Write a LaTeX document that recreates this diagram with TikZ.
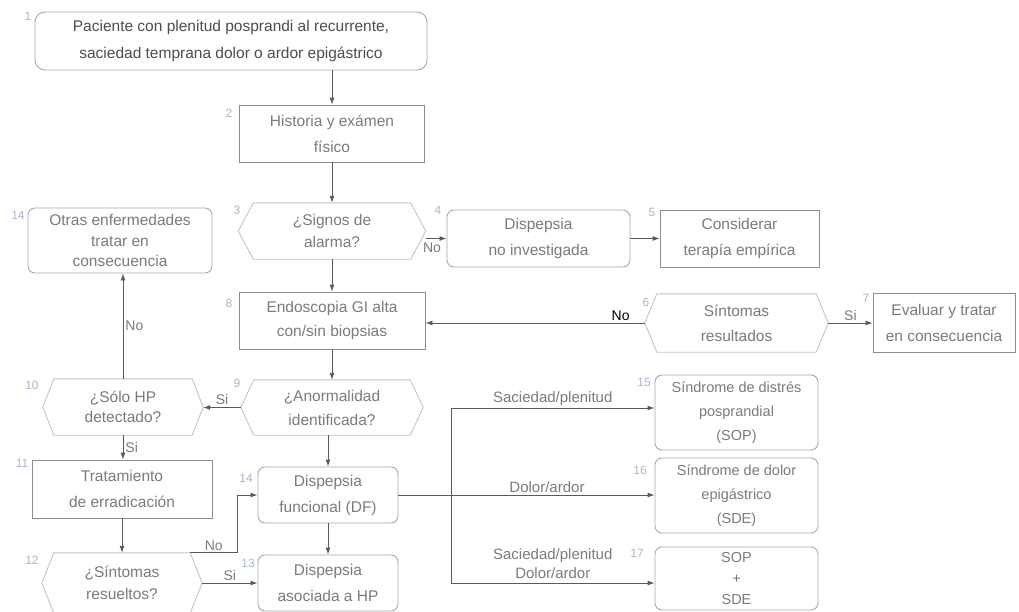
\documentclass[tikz,border=0pt]{standalone}
\usepackage{fontspec}
\setmainfont{Liberation Sans}
\usetikzlibrary{arrows.meta}
\definecolor{txt}{HTML}{7B7B7B}
\definecolor{txtdark}{HTML}{4D4D4D}
\definecolor{boxline}{HTML}{8C8C8C}
\definecolor{rboxline}{HTML}{A8A8A8}
\definecolor{hexline}{HTML}{C4C4C4}
\definecolor{arrline}{HTML}{5A5A5A}
\definecolor{numcol}{HTML}{A7B6D2}
\newcommand\hexpath[2]{%
  \draw[hexdraw] (#1.west) -- ([xshift=#2]#1.north west) -- ([xshift=-#2]#1.north east)
    -- (#1.east) -- ([xshift=-#2]#1.south east) -- ([xshift=#2]#1.south west) -- cycle;}
\tikzset{
  basefont/.style={font=\fontsize{15.5}{26}\selectfont, text=txt},
  smallfont/.style={font=\fontsize{14.5}{24}\selectfont, text=txt},
  boxnode/.style={basefont, draw=boxline, line width=0.9pt, rectangle, align=center, inner sep=0pt, anchor=center},
  rboxnode/.style={basefont, draw=rboxline, line width=0.9pt, rectangle, rounded corners=7pt, align=center, inner sep=0pt, anchor=center},
  hexnode/.style={font=\fontsize{15.5}{21.5}\selectfont, text=txt, rectangle, align=center, inner sep=0pt, anchor=center},
  hexdraw/.style={draw=hexline, line width=0.9pt, line join=round},
  arr/.style={draw=arrline, line width=0.9pt, -{Latex[length=7pt,width=5pt]}},
  plain/.style={draw=arrline, line width=0.9pt},
  lbl/.style={font=\fontsize{14}{18}\selectfont, text=txt, inner sep=2pt},
  numlbl/.style={font=\fontsize{12}{14}\selectfont, text=numcol, inner sep=0pt, anchor=center},
}
\begin{document}
\begin{tikzpicture}[x=1pt,y=-1pt]
\fill[white] (0,0) rectangle (1019,611);
\useasboundingbox (0,0) rectangle (1019,611);

% nodes
\node[rboxnode, rounded corners=10pt, minimum width=392, minimum height=58, text=txtdark, font=\fontsize{15.5}{27}\selectfont] (n1) at (231,41)
  {Paciente con plenitud posprandi al recurrente,\\saciedad temprana  dolor o ardor epigástrico};
\node[boxnode, minimum width=185, minimum height=57] (n2) at (332,133.5) {Historia y exámen\\físico};
\node[hexnode, minimum width=187, minimum height=56] (n3) at (332,231) {¿Signos de\\alarma?};
\hexpath{n3}{15}
\node[rboxnode, minimum width=183, minimum height=57] (n4) at (538.5,238.5) {Dispepsia\\no investigada};
\node[boxnode, minimum width=159, minimum height=57] (n5) at (739.5,238.5) {Considerar\\terapía empírica};
\node[rboxnode, minimum width=184, minimum height=65, font=\fontsize{15.5}{20.5}\selectfont] (n14) at (120,240.5) {Otras enfermedades\\tratar en\\consecuencia};
\node[boxnode, minimum width=186, minimum height=57, font=\fontsize{15.5}{24}\selectfont] (n8) at (332,320.5) {Endoscopia GI alta\\con/sin biopsias};
\node[hexnode, minimum width=183, minimum height=58, font=\fontsize{15.5}{25}\selectfont] (n6) at (736.5,323) {Síntomas\\resultados};
\hexpath{n6}{12}
\node[boxnode, minimum width=142, minimum height=59] (n7) at (944,322.5) {Evaluar y tratar\\en consecuencia};
\node[hexnode, minimum width=160, minimum height=56, font=\fontsize{15.5}{20}\selectfont] (n10) at (123,407) {¿Sólo HP\\detectado?};
\hexpath{n10}{11}
\node[hexnode, minimum width=182, minimum height=55, font=\fontsize{15.5}{24}\selectfont] (n9) at (332,407.5) {¿Anormalidad\\identificada?};
\hexpath{n9}{13}
\node[boxnode, minimum width=180, minimum height=58] (n11) at (122,489) {Tratamiento\\de erradicación};
\node[hexnode, minimum width=160, minimum height=60] (n12) at (122,583) {¿Síntomas\\resueltos?};
\hexpath{n12}{12}
\node[rboxnode, minimum width=140, minimum height=56] (nDF) at (328,495) {Dispepsia\\funcional (DF)};
\node[rboxnode, minimum width=140, minimum height=56] (n13) at (328,583) {Dispepsia\\asociada a HP};
\node[rboxnode, smallfont, minimum width=163, minimum height=75] (n15) at (736.5,412.5) {Síndrome de distrés\\posprandial\\(SOP)};
\node[rboxnode, smallfont, minimum width=163, minimum height=75] (n16) at (736.5,495.5) {Síndrome de dolor\\epigástrico\\(SDE)};
\node[rboxnode, smallfont, minimum width=163, minimum height=63, font=\fontsize{14.5}{21}\selectfont] (n17) at (736.5,578.5) {SOP\\+\\SDE};

% numbers
\node[numlbl] (k1) at (28,16) {1};
\node[numlbl] (k2) at (229,113) {2};
\node[numlbl] (k3) at (237,210) {3};
\node[numlbl] (k4) at (438,210) {4};
\node[numlbl] (k5) at (652,212) {5};
\node[numlbl] (k6) at (646,302) {6};
\node[numlbl] (k7) at (866,298) {7};
\node[numlbl] (k8) at (229,303) {8};
\node[numlbl] (k9) at (237,383) {9};
\node[numlbl] (k10) at (32,385) {10};
\node[numlbl] (k11) at (22,463) {11};
\node[numlbl] (k12) at (32,560) {12};
\node[numlbl] (k13) at (248,563) {13};
\node[numlbl] (k14) at (18,215) {14};
\node[numlbl] (k14b) at (246,478) {14};
\node[numlbl] (k15) at (644,382) {15};
\node[numlbl] (k16) at (640,470) {16};
\node[numlbl] (k17) at (637,553) {17};

% connectors
\draw[arr] (n1.south -| n2.north) -- (n2.north);
\draw[arr] (n2.south) -- (n3.north);
\draw[arr] (n3.south) -- (n8.north);
\draw[arr] (n3.east |- n4.west) -- node[lbl, anchor=north, pos=0.3, yshift=-2pt] {No} (n4.west);
\draw[arr] (n4.east) -- (n5.west);
\draw[arr] (n6.west) -- node[lbl, above, pos=0.11, text=black, font=\fontsize{14}{18}\selectfont] {No} (n6.west -| n8.east);
\draw[arr] (n6.east) -- node[lbl, above] {Si} (n6.east -| n7.west);
\draw[arr] (n8.south) -- (n9.north);
\draw[arr] (n9.west) -- node[lbl, above] {Si} (n9.west -| n10.east);
\draw[arr] (n10.north) -- node[lbl, right] {No} (n10.north |- n14.south);
\draw[arr] (n10.south) -- node[lbl, right] {Si} (n10.south |- n11.north);
\draw[arr] (n11.south) -- (n11.south |- n12.north);
\draw[arr] (n9.south -| nDF.north) -- (nDF.north);
\draw[arr] (nDF.south) -- (n13.north);
\draw[arr] (n12.east) -- node[lbl, above] {Si} (n12.east -| n13.west);
\draw[arr] ([xshift=-12pt]n12.north east) -- node[lbl, above] {No} ([xshift=35pt]n12.north east) |- (nDF.west);

\coordinate (jt) at (451,408);
\coordinate (jm) at (451,495);
\coordinate (jb) at (451,583);
\draw[plain] (jt) -- (jb);
\draw[arr] (nDF.east) -- node[lbl, above, pos=0.58, font=\fontsize{15}{18}\selectfont] {Dolor/ardor} (nDF.east -| n16.west);
\draw[arr] (jt) -- node[lbl, above, font=\fontsize{15}{18}\selectfont] {Saciedad/plenitud} (jt -| n15.west);
\draw[arr] (jb) -- node[lbl, above, align=center, font=\fontsize{15}{19}\selectfont, yshift=2pt] {Saciedad/plenitud\\Dolor/ardor} (jb -| n17.west);
\end{tikzpicture}
\end{document}
